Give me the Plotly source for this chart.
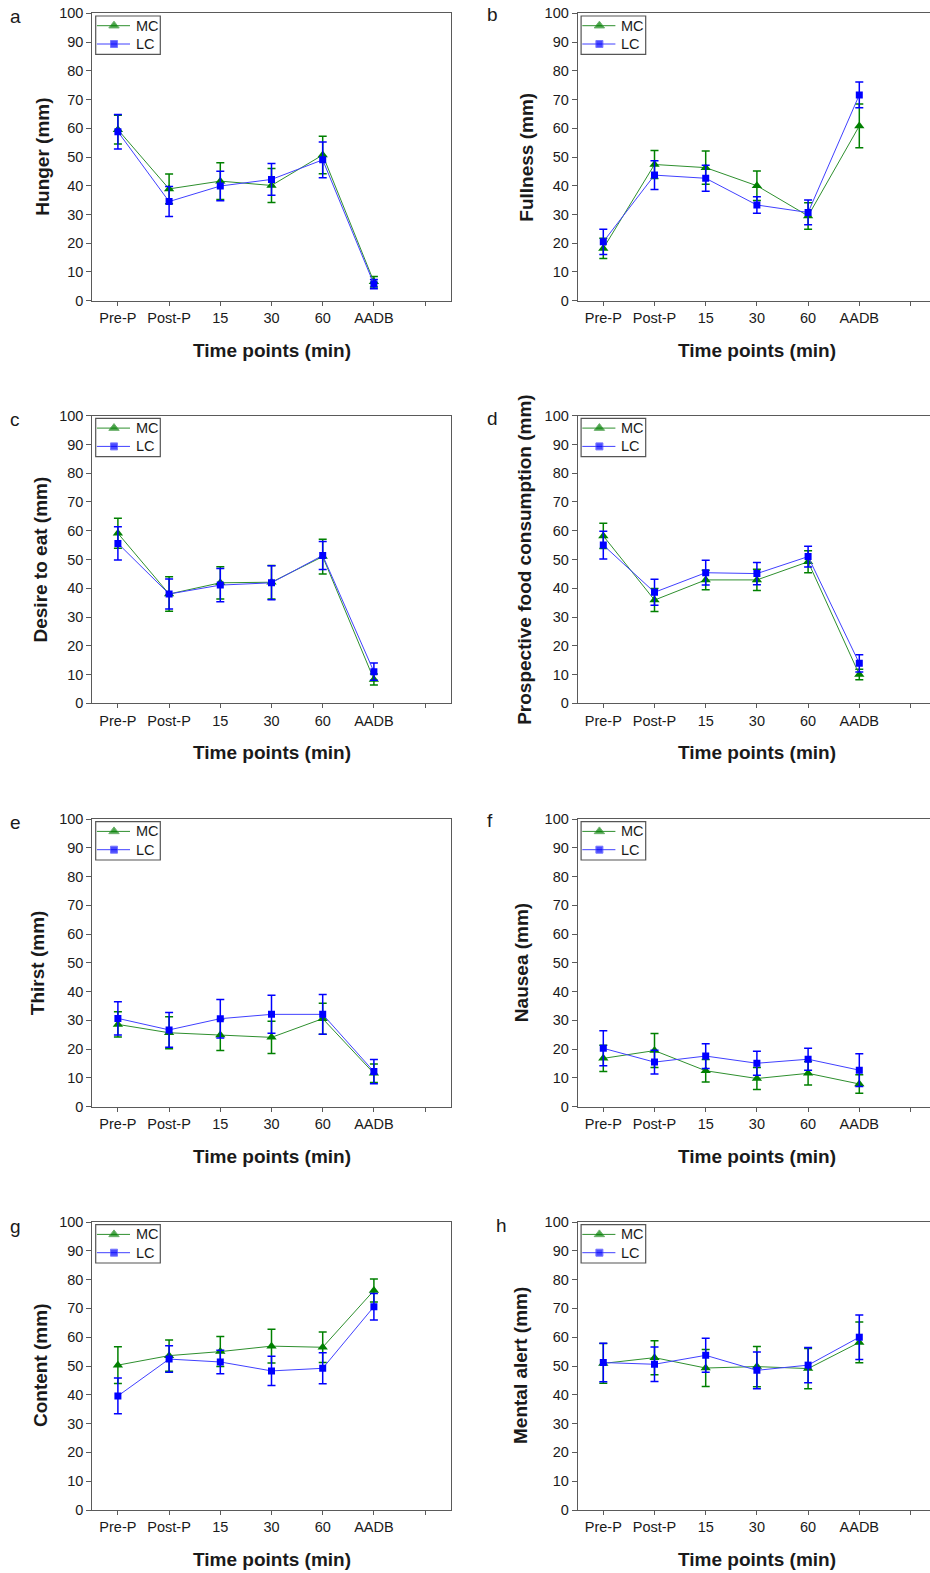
import plotly.graph_objects as go

# Time points on the x axis (the last slot is an unlabelled spare tick)
time_labels = ["Pre-P", "Post-P", "15", "30", "60", "AADB", ""]
time_pos = [0, 1, 2, 3, 4, 5]
series_names = ["MC", "LC"]

# Mean and error (mm) for each rating, MC and LC conditions
hunger_mc = [59.5, 38.9, 41.6, 40.1, 50.7, 6.6]
hunger_mc_err = [5.0, 5.2, 6.4, 5.9, 6.5, 1.8]
hunger_lc = [58.8, 34.5, 39.9, 42.2, 49.0, 5.8]
hunger_lc_err = [6.0, 5.2, 5.1, 5.5, 6.2, 1.6]

fullness_mc = [18.2, 47.4, 46.3, 40.0, 29.5, 60.8]
fullness_mc_err = [3.5, 4.9, 5.8, 5.1, 4.6, 7.6]
fullness_lc = [20.5, 43.7, 42.6, 33.3, 30.7, 71.6]
fullness_lc_err = [4.4, 5.0, 4.5, 2.9, 4.3, 4.5]

desire_mc = [59.1, 38.0, 41.9, 42.1, 51.0, 8.3]
desire_mc_err = [5.2, 6.0, 5.6, 5.8, 6.0, 1.9]
desire_lc = [55.6, 38.0, 41.1, 41.9, 51.4, 11.0]
desire_lc_err = [5.8, 5.2, 5.8, 5.9, 4.9, 3.0]

prospective_mc = [58.2, 35.9, 42.9, 42.9, 49.2, 10.0]
prospective_mc_err = [4.4, 4.0, 3.4, 3.7, 3.8, 1.8]
prospective_lc = [55.0, 38.6, 45.4, 45.1, 51.0, 13.9]
prospective_lc_err = [4.8, 4.5, 4.3, 3.9, 3.6, 3.0]

thirst_mc = [28.6, 25.7, 24.9, 24.1, 30.6, 11.6]
thirst_mc_err = [4.4, 5.6, 5.4, 5.6, 5.4, 3.2]
thirst_lc = [30.7, 26.7, 30.6, 32.1, 32.1, 12.2]
thirst_lc_err = [5.8, 6.0, 6.7, 6.6, 6.9, 4.2]

nausea_mc = [16.8, 19.5, 12.5, 9.8, 11.6, 7.9]
nausea_mc_err = [4.6, 5.9, 3.9, 3.8, 4.1, 3.2]
nausea_lc = [20.3, 15.5, 17.6, 15.1, 16.5, 12.7]
nausea_lc_err = [6.1, 4.1, 4.3, 4.2, 3.8, 5.7]

content_mc = [50.3, 53.6, 55.0, 56.9, 56.5, 76.2]
content_mc_err = [6.4, 5.4, 5.2, 5.9, 5.3, 4.0]
content_lc = [39.6, 52.4, 51.4, 48.3, 49.2, 70.6]
content_lc_err = [6.2, 4.6, 4.1, 5.1, 5.4, 4.6]

alert_mc = [50.9, 52.9, 49.3, 49.8, 49.1, 58.2]
alert_mc_err = [6.9, 5.9, 6.4, 7.0, 7.0, 7.1]
alert_lc = [51.2, 50.6, 53.7, 48.5, 50.3, 60.0]
alert_lc_err = [6.7, 6.0, 5.9, 6.4, 6.1, 7.7]

y_titles = ["Hunger (mm)", "Fullness (mm)", "Desire to eat (mm)",
            "Prospective food consumption (mm)", "Thirst (mm)", "Nausea (mm)",
            "Content (mm)", "Mental alert (mm)"]
panel_letters = ["a", "b", "c", "d", "e", "f", "g", "h"]

panels = [
    (hunger_mc, hunger_mc_err, hunger_lc, hunger_lc_err),
    (fullness_mc, fullness_mc_err, fullness_lc, fullness_lc_err),
    (desire_mc, desire_mc_err, desire_lc, desire_lc_err),
    (prospective_mc, prospective_mc_err, prospective_lc, prospective_lc_err),
    (thirst_mc, thirst_mc_err, thirst_lc, thirst_lc_err),
    (nausea_mc, nausea_mc_err, nausea_lc, nausea_lc_err),
    (content_mc, content_mc_err, content_lc, content_lc_err),
    (alert_mc, alert_mc_err, alert_lc, alert_lc_err),
]

W, H = 930, 1573
FONT = "Liberation Sans, Arial, sans-serif"
AXIS_COL = "#5a5a5a"
TEXT_COL = "#1a1a1a"
GREEN, GREEN_LINE = "#008000", "#2e8f2e"
BLUE, BLUE_LINE = "#0000ff", "#4040ff"
styles = [
    dict(line=GREEN_LINE, marker=GREEN, symbol="triangle-up", size=9),
    dict(line=BLUE_LINE, marker=BLUE, symbol="square", size=7),
]

# Plot-area geometry in pixels
col_left = [(92.3, 451.3), (577.7, 930.0)]
row_top = [(13.3, 300.7), (415.7, 703.3), (819.0, 1106.7), (1222.0, 1510.0)]
unit_px = 51.2  # pixels per category step
ytitle_x = [42.7, 526.7, 40.0, 524.3, 38.3, 522.3, 40.0, 520.0]
letter_pos = [(15.5, 16), (492, 15), (15, 419.5), (492, 418),
              (15, 822), (490, 820), (15, 1226), (501, 1225)]

fig = go.Figure()
layout = dict(
    width=W, height=H, margin=dict(l=0, r=0, t=0, b=0, autoexpand=False),
    paper_bgcolor="white", plot_bgcolor="rgba(0,0,0,0)",
    font=dict(family=FONT, size=14, color=TEXT_COL),
    showlegend=False, annotations=[], shapes=[],
)

# Key samples, collected per series and drawn on a full-page pixel overlay
key_x = [[], []]
key_y = [[], []]
key_size = [[], []]

for i, (mc, mc_err, lc, lc_err) in enumerate(panels):
    k = i + 1
    col, row = i % 2, i // 2
    x0, x1 = col_left[col]
    t0, t1 = row_top[row]
    xa = "x" if k == 1 else f"x{k}"
    ya = "y" if k == 1 else f"y{k}"

    for s, (vals, errs) in enumerate([(mc, mc_err), (lc, lc_err)]):
        st = styles[s]
        fig.add_trace(go.Scatter(
            x=time_pos, y=vals, name=series_names[s], xaxis=xa, yaxis=ya,
            mode="lines+markers",
            line=dict(color=st["line"], width=1),
            marker=dict(symbol=st["symbol"], size=st["size"], color=st["marker"]),
            error_y=dict(type="data", array=errs, color=st["marker"],
                         thickness=1.5, width=4),
        ))

    x_hi = (x1 - x0) / unit_px - 0.5
    layout["xaxis" if k == 1 else f"xaxis{k}"] = dict(
        domain=[x0 / W, x1 / W], anchor=ya, range=[-0.5, x_hi], automargin=False,
        tickmode="array", tickvals=list(range(7)), ticktext=time_labels,
        ticks="outside", ticklen=4, tickcolor=AXIS_COL, tickwidth=1,
        showline=True, linecolor=AXIS_COL, linewidth=1, mirror=True,
        showgrid=False, zeroline=False,
        tickfont=dict(family=FONT, size=14.5, color=TEXT_COL),
    )
    layout["yaxis" if k == 1 else f"yaxis{k}"] = dict(
        domain=[1 - t1 / H, 1 - t0 / H], anchor=xa, range=[0, 100], automargin=False,
        tickmode="linear", tick0=0, dtick=10,
        ticks="outside", ticklen=5, tickcolor=AXIS_COL, tickwidth=1,
        showline=True, linecolor=AXIS_COL, linewidth=1, mirror=(col == 0),
        showgrid=False, zeroline=False,
        tickfont=dict(family=FONT, size=14.5, color=TEXT_COL),
    )

    # key box in the upper-left corner of the panel
    layout["shapes"].append(dict(
        type="rect", xref="x9", yref="y9",
        x0=x0 + 3.4, x1=x0 + 68, y0=t0 + 2.7, y1=t0 + 41,
        line=dict(color="#555", width=1.2), fillcolor="rgba(0,0,0,0)", layer="above",
    ))
    for s, ry in enumerate([t0 + 12.4, t0 + 30.7]):
        key_x[s] += [x0 + 4.6, x0 + 21.7, x0 + 37.7, None]
        key_y[s] += [ry, ry, ry, None]
        key_size[s] += [0, styles[s]["size"], 0, 0]
        layout["annotations"].append(dict(
            text=series_names[s], xref="x9", yref="y9", x=x0 + 41.5, y=ry,
            xanchor="left", yanchor="middle", showarrow=False,
            font=dict(family=FONT, size=14.5, color=TEXT_COL),
        ))

    # axis titles and panel letter
    layout["annotations"].append(dict(
        text="<b>Time points (min)</b>", xref="paper", yref="paper",
        x=(x0 + (col_left[0][1] - col_left[0][0]) / 2) / W, y=1 - (t1 + 49.5) / H,
        xanchor="center", yanchor="middle", showarrow=False,
        font=dict(family=FONT, size=19, color=TEXT_COL),
    ))
    layout["annotations"].append(dict(
        text=f"<b>{y_titles[i]}</b>", xref="paper", yref="paper",
        x=ytitle_x[i] / W, y=1 - (t0 + t1) / 2 / H, textangle=-90,
        xanchor="center", yanchor="middle", showarrow=False,
        font=dict(family=FONT, size=19, color=TEXT_COL),
    ))
    lx, ly = letter_pos[i]
    layout["annotations"].append(dict(
        text=panel_letters[i], xref="paper", yref="paper",
        x=lx / W, y=1 - ly / H, xanchor="center", yanchor="middle",
        showarrow=False, font=dict(family=FONT, size=19, color=TEXT_COL),
    ))

for s in range(2):
    st = styles[s]
    fig.add_trace(go.Scatter(
        x=key_x[s], y=key_y[s], xaxis="x9", yaxis="y9", mode="lines+markers",
        line=dict(color=st["line"], width=1), connectgaps=False,
        marker=dict(symbol=st["symbol"], size=key_size[s], color=st["marker"]),
        hoverinfo="skip",
    ))

layout["xaxis9"] = dict(domain=[0, 1], range=[0, W], visible=False, anchor="y9",
                        fixedrange=True, showgrid=False, zeroline=False,
                        automargin=False)
layout["yaxis9"] = dict(domain=[0, 1], range=[H, 0], visible=False, anchor="x9",
                        fixedrange=True, showgrid=False, zeroline=False,
                        automargin=False)

fig.update_layout(**layout)
fig.write_html("out.html")
